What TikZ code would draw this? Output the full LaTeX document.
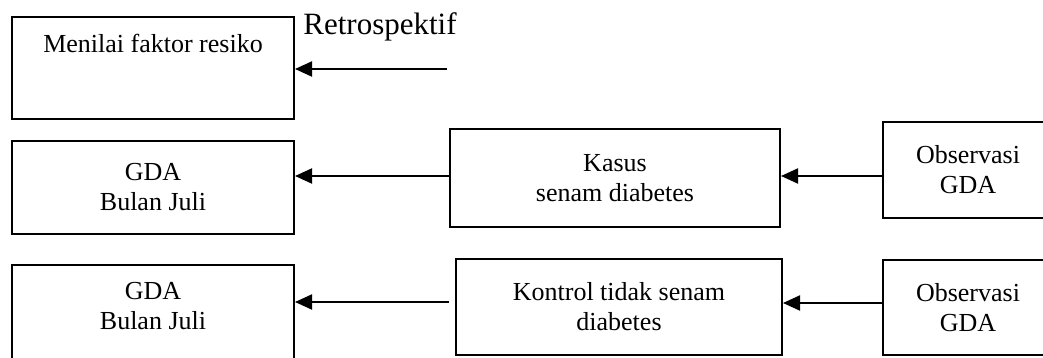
\documentclass[tikz,border=0pt]{standalone}
\usepackage{fontspec}
\setmainfont{Liberation Serif}
\usetikzlibrary{arrows.meta}

\begin{document}
\begin{tikzpicture}[x=0.5pt, y=-0.5pt,
    box/.style={draw, line width=1pt, inner sep=0pt, align=center, font=\fontsize{13}{15}\selectfont},
    txt/.style={inner sep=0pt, align=center, font=\fontsize{13}{15}\selectfont},
    arr/.style={-{Triangle[length=8.5pt, width=7.5pt]}, line width=1pt}]

    \useasboundingbox (0,0) rectangle (1043,358);
    \clip (0,0) rectangle (1043,358);

    % kolom kiri
    \node (risk) [box, minimum width=141pt, minimum height=51pt] at (153, 68) {};
    \node (riskText) [txt, anchor=base] at (153, 53) {Menilai faktor resiko};
    \node (gdaA) [box, minimum width=141pt, minimum height=46.5pt] at (153, 187.5) {GDA\\Bulan Juli};
    \node (gdaB) [box, minimum width=141pt, minimum height=50pt] at (153, 315) {};
    \node (gdaBText) [txt] at (153, 306) {GDA\\Bulan Juli};

    % kolom tengah
    \node (kasus) [box, minimum width=165pt, minimum height=49pt] at (615, 178) {Kasus\\senam diabetes};
    \node (kontrol) [box, minimum width=163pt, minimum height=48pt] at (619, 307) {Kontrol tidak senam\\diabetes};

    % kolom kanan (terpotong di tepi)
    \node (obsA) [box, minimum width=85pt, minimum height=48pt] at (968, 170) {Observasi\\GDA};
    \node (obsB) [box, minimum width=85pt, minimum height=47.5pt] at (968, 307.5) {Observasi\\GDA};

    \node (retroLabel) [anchor=base west, inner sep=0pt, font=\fontsize{15.5}{18}\selectfont] at (303, 35) {Retrospektif};
    \coordinate (retro) at (447, 69);

    \draw[arr] (retro) -- (retro -| risk.east); % panah atas
    \draw[arr] ([yshift=1pt]kasus.west) -- ([yshift=1pt]kasus.west -| gdaA.east);
    \draw[arr] ([yshift=1pt]kasus.east -| obsA.west) -- ([yshift=1pt]kasus.east);
    \draw[arr] ([xshift=-3pt, yshift=2.5pt]kontrol.west) -- ([yshift=2.5pt]kontrol.west -| gdaB.east);
    \draw[arr] ([yshift=2pt]kontrol.east -| obsB.west) -- ([yshift=2pt]kontrol.east);

\end{tikzpicture}
\end{document}
